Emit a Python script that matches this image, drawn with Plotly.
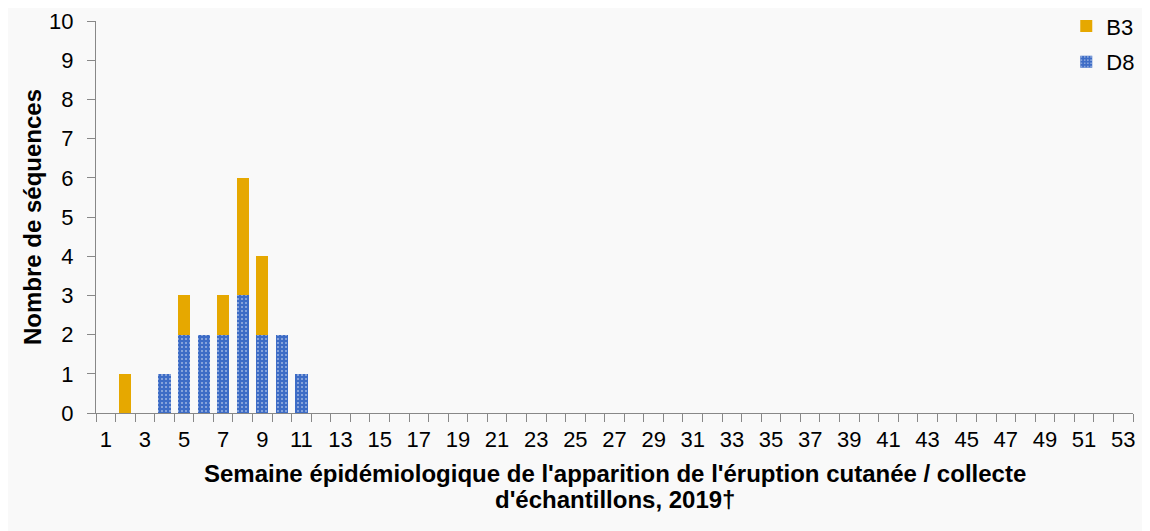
import plotly.graph_objects as go

semaines = [str(s) for s in range(1, 54)]
etiquettes = [s if int(s) % 2 == 1 else "" for s in semaines]

# nombre de séquences par semaine (semaines 1 à 11, le reste à zéro)
d8 = [0, 0, 0, 1, 2, 2, 2, 3, 2, 2, 1] + [0] * 42
b3 = [0, 1, 0, 0, 1, 0, 1, 3, 2, 0, 0] + [0] * 42

titre_x = ["Semaine épidémiologique de l'apparition de l'éruption cutanée / collecte",
           "d'échantillons, 2019†"]

police = "Liberation Sans, Arial, sans-serif"

fig = go.Figure()
fig.add_trace(go.Bar(
    x=semaines, y=d8, name="D8", legendgroup="d8", legendrank=2,
    marker=dict(color="#3d6cc6", line=dict(width=0),
                pattern=dict(shape=".", fgcolor="white", bgcolor="#3d6cc6",
                             size=4, solidity=0.2)),
))
fig.add_trace(go.Bar(
    x=semaines, y=b3, name="B3", legendgroup="b3", legendrank=1,
    marker=dict(color="#e6a800", line=dict(width=0)),
))

# la page décale la figure de 8 px : on compense dans les marges
fig.update_layout(
    barmode="stack",
    bargap=0.38,
    width=1142, height=523,
    margin=dict(l=88, r=17, t=13, b=118, autoexpand=False),
    paper_bgcolor="#f9f9f9",
    plot_bgcolor="#f9f9f9",
    font=dict(family=police, size=22, color="black"),
    legend=dict(x=1.007, y=1.04, xanchor="right", yanchor="top",
                traceorder="grouped", tracegroupgap=4,
                bgcolor="rgba(0,0,0,0)", font=dict(size=22), itemwidth=30),
)
for i, ligne in enumerate(titre_x):
    fig.add_annotation(text="<b>" + ligne + "</b>", xref="paper", yref="paper",
                       x=0.5, y=0, xanchor="center", yanchor="middle",
                       yshift=-60 - 26 * i, showarrow=False, font=dict(size=24))

fig.update_xaxes(
    type="category", automargin=False,
    tickmode="array", tickvals=semaines, ticktext=etiquettes,
    tickson="boundaries", ticks="outside", ticklen=8, ticklabelstandoff=7,
    tickcolor="#888888", showline=True, linecolor="#888888",
    showgrid=False, tickangle=0,
)
fig.update_yaxes(
    range=[0, 10], dtick=1, ticks="outside", ticklen=8, automargin=False,
    ticklabelstandoff=9,
    tickcolor="#888888", showline=True, linecolor="#888888",
    showgrid=False, zeroline=False,
    title=dict(text="<b>Nombre de séquences</b>", font=dict(size=24), standoff=0),
)

fig.write_html("out.html")
